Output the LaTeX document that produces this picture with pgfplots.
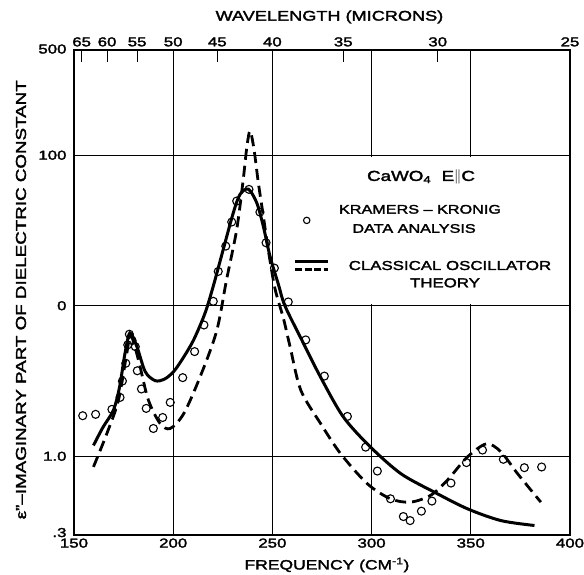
\documentclass[border=0pt]{standalone}
\usepackage{fontspec}
\setmainfont{Liberation Sans}[FakeStretch=1.3,FakeBold=2.2]
\usepackage{pgfplots}
\pgfplotsset{compat=1.18}

\pgfplotstableread{
f v
159.8 1.18
164.5 1.55
169.9 2.03
173.0 2.9
175.7 4.83
178.2 6.6
181.7 5.35
185.9 3.65
190.9 3.18
195.5 3.25
200.2 3.65
205.0 4.5
210.3 5.93
216.0 8.9
220.2 13.5
225.2 23.6
230.3 41.5
233.7 55
237.9 59.5
242.1 48.3
245.4 33.8
248.8 21.3
253.0 13.9
256.3 10.0
264.8 5.93
274.0 3.41
285.7 1.83
299.5 1.15
314.8 0.766
331.6 0.578
348.3 0.448
365.2 0.374
382.1 0.347
}\solidtab

\pgfplotstableread{
f v
159.8 0.85
166.6 1.42
172.4 2.36
176.6 4.83
178.4 6.4
180.6 5.4
183.3 3.94
187.5 2.36
193.4 1.65
198.5 1.53
205.3 1.92
213.6 3.38
221.9 6.8
226.9 14.9
232.0 32
235.3 69
237.0 110
238.7 145
240.7 110
242.9 65.8
245.4 39.6
247.9 23.6
251.3 13
255.5 8.3
258.9 5.35
264.3 2.75
274.3 1.65
284.4 1.04
297.8 0.658
309.5 0.522
319.6 0.496
329.7 0.55
338.1 0.692
348.3 0.99
357.9 1.21
365.2 1.07
373.6 0.766
385.3 0.496
}\dashtab

\pgfplotstableread{
f v
154.4 1.86
160.9 1.90
169.1 2.05
173.2 2.46
174.4 3.16
176.1 4.15
177.1 5.5
177.9 6.47
179.3 5.87
180.9 5.35
181.9 3.7
184.0 2.8
186.4 2.08
190.0 1.53
194.7 1.81
198.5 2.28
204.8 3.33
210.8 4.96
215.5 7.45
220.2 10.7
222.7 16.9
226.5 24.9
229.5 36
232.0 49.6
238.2 59.3
243.7 41.9
246.8 26.2
251.0 17.8
258.0 10.6
266.8 5.93
276.2 3.41
287.8 1.84
297.0 1.15
302.9 0.798
309.5 0.522
316.0 0.398
319.4 0.374
325.1 0.432
330.4 0.504
340.0 0.664
347.8 0.908
355.9 1.1
366.4 0.955
377.0 0.84
385.7 0.849
}\circtab

\begin{document}
\begin{tikzpicture}
\path[use as bounding box] (-74bp,-40bp) rectangle (510bp,535bp);
\tikzset{
  solidcurve/.style={black, line width=3bp},
  dashcurve/.style={black, line width=2.8bp, dash pattern=on 11bp off 6bp},
}
\begin{axis}[
  at={(0,0)}, anchor=south west,
  scale only axis, width=496bp, height=485bp,
  xmin=150, xmax=400, ymode=log, ymin=0.3, ymax=500,
  xtick={150,200,250,300,350,400},
  xticklabels={150,200,250,300,350,400},
  ytick={0.3,1,10,100,500},
  yticklabels={\raisebox{5bp}{.3},1.0,0,100,\raisebox{2bp}{500}},
  xtick pos=bottom, ytick pos=left,
  tick align=inside,
  major tick length=6bp,
  yminorticks=false,
  grid=major,
  major grid style={black, line width=0.9bp},
  axis line style={line width=1.6bp},
  tick style={black, line width=0.9bp},
  ticklabel style={font=\fontsize{13}{13}\selectfont},
  yticklabel style={xshift=-4bp},
  xlabel={FREQUENCY (CM\textsuperscript{-1})},
  xlabel style={font=\fontsize{13.5}{14}\selectfont, at={(axis description cs:0.51,0)}, anchor=center, yshift=-30bp},
  ylabel={ε''–IMAGINARY PART OF DIELECTRIC CONSTANT},
  ylabel style={font=\fontsize{14.5}{15}\selectfont, at={(axis description cs:0,0.485)}, anchor=center, yshift=53bp},
]
\fill[white] (axis cs:250.8,10.25) rectangle (axis cs:399,97.5);
\addplot[solidcurve, smooth] table[x=f,y=v] {\solidtab};
\addplot[dashcurve, smooth] table[x=f,y=v] {\dashtab};
\addplot[only marks, mark=o, mark size=4bp, mark options={black, line width=1.1bp, fill=white}] table[x=f,y=v] {\circtab};
% legend
\node[font=\fontsize{14.5}{15}\selectfont] at (axis cs:324.9,71.3) {CaWO\textsubscript{4}\ \ E$\parallel$C};
\node[font=\fontsize{12.5}{13}\selectfont] at (axis cs:324.4,43.7) {KRAMERS – KRONIG};
\node[font=\fontsize{12.5}{13}\selectfont] at (axis cs:321.4,32.6) {DATA ANALYSIS};
\addplot[only marks, mark=o, mark size=3.2bp, mark options={black, line width=1.1bp, fill=white}] coordinates {(267.3,36.9)};
\addplot[black, line width=2.6bp] coordinates {(261.4,19.6) (278.2,19.6)};
\addplot[black, line width=2.4bp, dash pattern=on 7bp off 2.5bp] coordinates {(261.4,17.4) (278.2,17.4)};
\node[font=\fontsize{13}{13}\selectfont] at (axis cs:339.5,18.5) {CLASSICAL OSCILLATOR};
\node[font=\fontsize{13}{13}\selectfont] at (axis cs:337,14.2) {THEORY};
\end{axis}
\begin{axis}[
  at={(0,0)}, anchor=south west,
  scale only axis, width=496bp, height=485bp,
  xmin=150, xmax=400, ymin=0, ymax=1,
  axis x line*=top, axis y line=none,
  xtick={153.846,166.667,181.818,200,222.222,250,285.714,333.333,400},
  xticklabels={65,60,55,50,45,40,35,30,25},
  tick align=inside,
  major tick length=12bp,
  axis line style={line width=1.6bp},
  tick style={black, line width=0.9bp},
  ticklabel style={font=\fontsize{13}{13}\selectfont},
  xlabel={WAVELENGTH (MICRONS)},
  xlabel style={font=\fontsize{14}{15}\selectfont, at={(axis description cs:0.515,1)}, anchor=center, yshift=33bp},
]
\end{axis}
\end{tikzpicture}
\end{document}
